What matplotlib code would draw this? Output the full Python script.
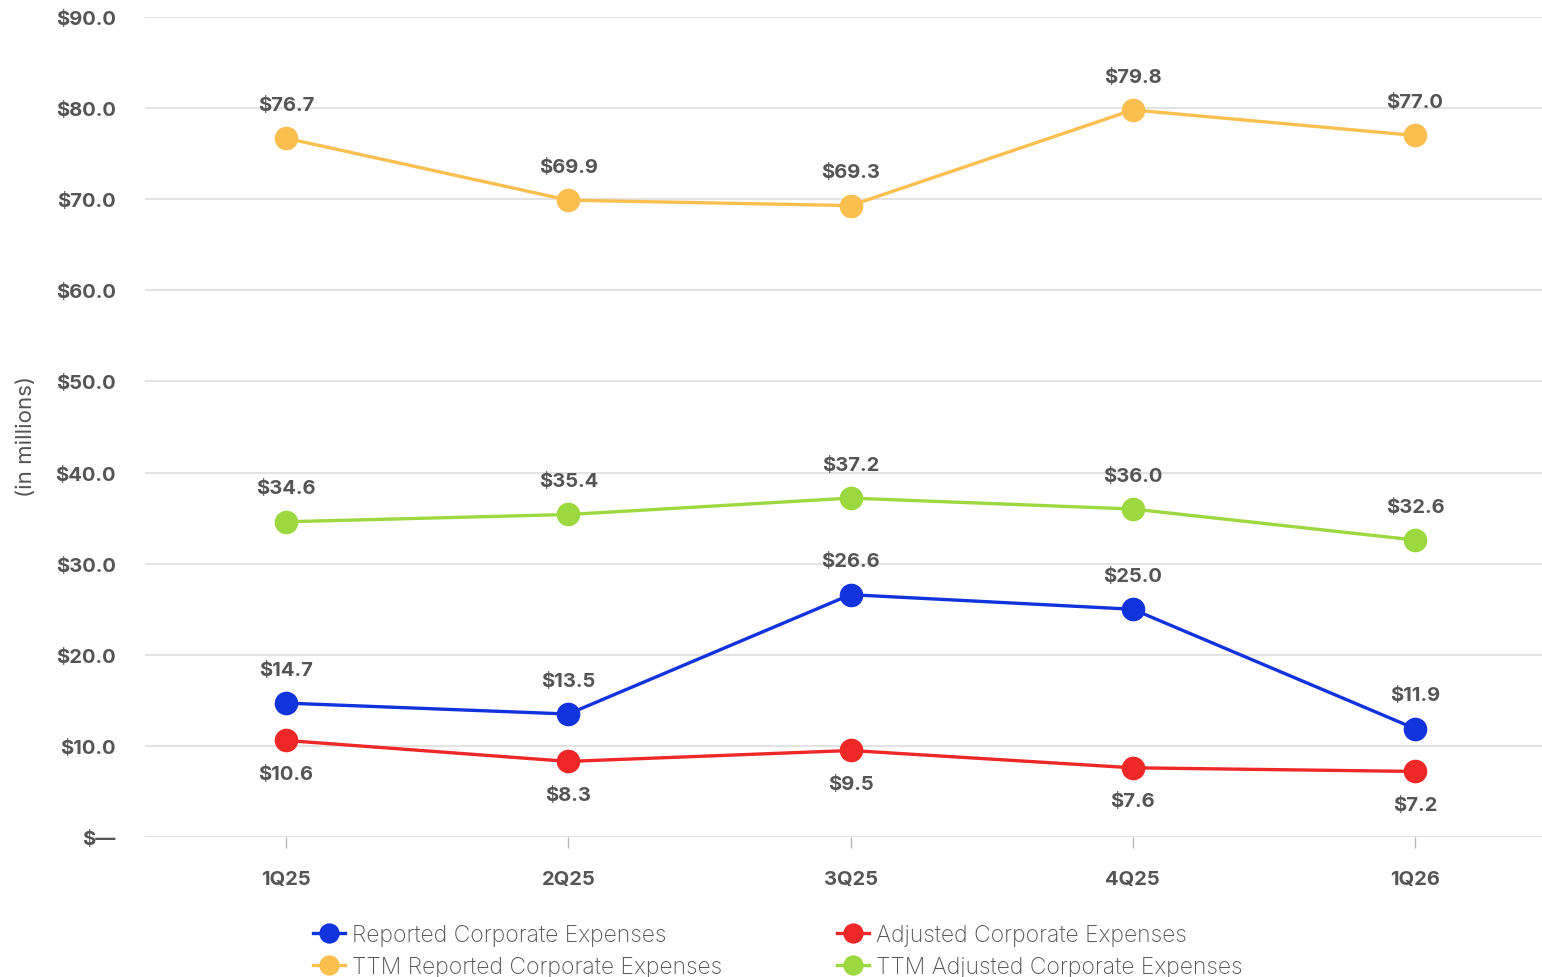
import matplotlib
matplotlib.use("Agg")
import matplotlib.pyplot as plt

quarters = ["1Q25", "2Q25", "3Q25", "4Q25", "1Q26"]
reported = [14.7, 13.5, 26.6, 25.0, 11.9]
adjusted = [10.6, 8.3, 9.5, 7.6, 7.2]
ttm_reported = [76.7, 69.9, 69.3, 79.8, 77.0]
ttm_adjusted = [34.6, 35.4, 37.2, 36.0, 32.6]
y_ticks = [0, 10, 20, 30, 40, 50, 60, 70, 80, 90]

plt.rcParams["font.family"] = ["Inter", "DejaVu Sans"]
grey = "#555555"

fig = plt.figure(figsize=(15.42, 9.78), dpi=100)
ax = fig.add_axes([0.094, 0.1431, 0.906, 0.8385])

x = list(range(len(quarters)))
series = [
    (reported, "#1133dd", "Reported Corporate Expenses", 1),
    (adjusted, "#ee2727", "Adjusted Corporate Expenses", -1),
    (ttm_reported, "#fbbf4f", "TTM Reported Corporate Expenses", 1),
    (ttm_adjusted, "#9cd83f", "TTM Adjusted Corporate Expenses", 1),
]
handles = {}
for values, color, label, side in series:
    h, = ax.plot(x, values, color=color, linewidth=2.4, marker="o",
                 markersize=16, label=label, zorder=3)
    handles[label] = h
    for xi, v in zip(x, values):
        ax.annotate(f"${v:.1f}", (xi, v), xytext=(0, 24 * side),
                    textcoords="offset points", ha="center", va="center",
                    fontsize=14.5, fontweight="bold", color=grey)

ax.set_ylim(0, 90)
ax.set_xlim(-0.5, 4.45)
ax.set_yticks(y_ticks)
ax.set_yticklabels(["$—"] + [f"${t:.1f}" for t in y_ticks[1:]])
ax.set_xticks(x)
ax.set_xticklabels(quarters)
ax.grid(axis="y", color="#e3e3e3", linewidth=1.5)
ax.set_axisbelow(True)
for s in ax.spines.values():
    s.set_visible(False)
ax.tick_params(axis="y", length=0, pad=21, labelsize=14.5, labelcolor=grey)
ax.tick_params(axis="x", length=8, width=1, color="#bbbbbb", pad=16,
               labelsize=14.5, labelcolor=grey, direction="out")
for t in ax.get_xticklabels() + ax.get_yticklabels():
    t.set_fontweight("bold")
ax.set_ylabel("(in millions)", fontsize=16, color=grey)
ax.yaxis.set_label_coords(-0.078, 0.49)

order = ["Reported Corporate Expenses", "TTM Reported Corporate Expenses",
         "Adjusted Corporate Expenses", "TTM Adjusted Corporate Expenses"]
leg = fig.legend([handles[k] for k in order], order, ncol=2,
                 loc="upper left", bbox_to_anchor=(0.197, 0.064),
                 frameon=False, fontsize=16.5, labelcolor=grey,
                 handlelength=1.4, handletextpad=0.3, columnspacing=5.0,
                 labelspacing=0.45, markerscale=0.85, borderaxespad=0)
for t in leg.get_texts():
    t.set_fontweight("light")

fig.savefig("out.png", dpi=100)
